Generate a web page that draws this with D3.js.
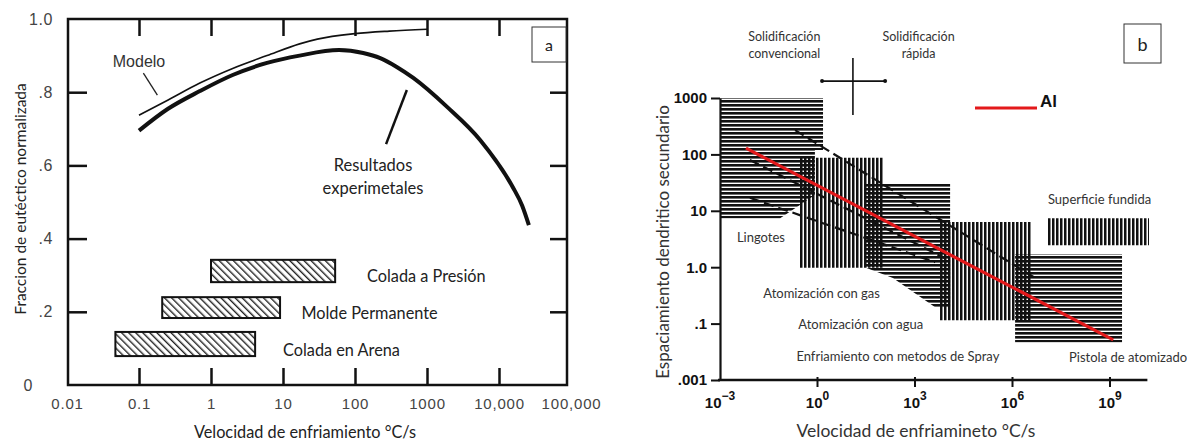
<!DOCTYPE html>
<html>
<head>
<meta charset="utf-8">
<script src="https://cdn.jsdelivr.net/npm/d3@7"></script>
<style>
body { margin: 0; background: #fff; }
text { font-family: Lato, "Open Sans", sans-serif; }
</style>
</head>
<body>
<svg id="chart" width="1187" height="440"></svg>
<script>
// ---------- panel a ----------
var aXTicks = [0.01, 0.1, 1, 10, 100, 1000, 10000, 100000];
var aXTickLabels = ["0.01", "0.1", "1", "10", "100", "1000", "10,000", "100,000"];
var aYTicks = [0, 0.2, 0.4, 0.6, 0.8, 1.0];
var aYTickLabels = ["0", ".2", ".4", ".6", ".8", "1.0"];
var modeloX = [0.1, 0.25, 0.7, 2, 6, 17, 30, 100, 300, 1000];
var modeloY = [0.737, 0.778, 0.825, 0.865, 0.90, 0.932, 0.945, 0.96, 0.967, 0.972];
var resultX = [0.1, 0.25, 0.7, 2, 6, 17, 60, 130, 224, 380, 645, 1900, 5500, 15500, 21000, 26000];
var resultY = [0.695, 0.754, 0.803, 0.847, 0.88, 0.90, 0.915, 0.907, 0.893, 0.869, 0.839, 0.76, 0.669, 0.541, 0.49, 0.437];
var processNames = ["Colada a Presión", "Molde Permanente", "Colada en Arena"];
var processXMin = [1, 0.21, 0.047];
var processXMax = [53, 9.1, 4.1];
var processYMin = [0.281, 0.183, 0.079];
var processYMax = [0.342, 0.240, 0.145];
var processLabelX = [147, 18, 10];

// ---------- panel b (x and y given as powers of ten) ----------
var bXTickExp = [-3, 0, 3, 6, 9];
var bYTicks = [1000, 100, 10, 1, 0.1, 0.01];
var bYTickLabels = ["1000", "100", "10", "1.0", ".1", ".001"];
var zoneA = [[-3, 3], [0.17, 3], [0.17, 2.08], [-0.08, 2.08], [-0.08, 1.28], [-1.15, 0.87], [-3, 0.87]];
var zoneB = [[-0.54, 1.94], [2.02, 1.94], [2.02, -0.01], [-0.54, -0.01]];
var zoneC = [[1.49, 1.49], [4.08, 1.49], [4.08, -0.71], [3.62, -0.71], [2.32, -0.19], [1.49, -0.01]];
var zoneD = [[3.77, 0.8], [6.6, 0.8], [6.6, -0.94], [3.77, -0.94]];
var zoneE = [[6.08, 0.23], [9.37, 0.23], [9.37, -1.33], [6.08, -1.33]];
var zoneF = [[7.09, 0.87], [10.2, 0.87], [10.2, 0.39], [7.09, 0.39]];
var dashedLines = [
	[[-0.69, 2.43], [6.69, -0.19]],
	[[-2.08, 1.90], [3.92, 0.16]],
	[[-2.08, 1.23], [3.62, 0.09]]
];
var alLine = [[-2.2, 2.11], [9.1, -1.29]];
var bLabels = ["Lingotes", "Atomización con gas", "Atomización con agua", "Enfriamiento con metodos de Spray", "Pistola de atomizado", "Superficie fundida"];
var bLabelX = [-2.48, -1.67, -0.59, -0.65, 7.74, 7.09];
var bLabelY = [0.53, -0.46, -1.01, -1.57, -1.60, 1.21];

var svg = d3.select("#chart");
svg.append("rect").attr("width", 1187).attr("height", 440).attr("fill", "#fff");

var defs = svg.append("defs");
defs.append("pattern").attr("id", "diag").attr("patternUnits", "userSpaceOnUse")
	.attr("width", 5).attr("height", 10).attr("patternTransform", "rotate(-45)")
	.append("rect").attr("width", 1.4).attr("height", 10).attr("fill", "#222");
defs.append("pattern").attr("id", "hz").attr("patternUnits", "userSpaceOnUse")
	.attr("width", 8).attr("height", 4)
	.append("rect").attr("width", 8).attr("height", 2.6).attr("fill", "#111");
defs.append("pattern").attr("id", "vt").attr("patternUnits", "userSpaceOnUse")
	.attr("width", 4).attr("height", 8)
	.append("rect").attr("width", 2.5).attr("height", 8).attr("fill", "#111");

// ================= panel a =================
var xA = d3.scaleLog().domain([0.01, 100000]).range([67, 571]);
var yA = d3.scaleLinear().domain([0, 1]).range([385, 19]);
var fL = 68, fR = 567, fT = yA(1), fB = yA(0);
var gA = svg.append("g");

gA.append("rect")
	.attr("x", fL).attr("y", fT)
	.attr("width", fR - fL).attr("height", fB - fT)
	.attr("fill", "none").attr("stroke", "#111").attr("stroke-width", 2.5);

var innerX = aXTicks.slice(1, 7);
var innerY = aYTicks.slice(1, 5);
function cleanTicks(g) {
	g.select(".domain").remove();
	g.selectAll("line").attr("stroke", "#111").attr("stroke-width", 2.5);
}
gA.append("g").attr("transform", "translate(0," + fB + ")")
	.call(d3.axisBottom(xA).tickValues(innerX).tickSize(-17).tickFormat(""))
	.call(cleanTicks);
gA.append("g").attr("transform", "translate(0," + fT + ")")
	.call(d3.axisTop(xA).tickValues(innerX).tickSize(-17).tickFormat(""))
	.call(cleanTicks);
gA.append("g").attr("transform", "translate(" + fL + ",0)")
	.call(d3.axisLeft(yA).tickValues(innerY).tickSize(-19).tickFormat(""))
	.call(cleanTicks);
gA.append("g").attr("transform", "translate(" + fR + ",0)")
	.call(d3.axisRight(yA).tickValues(innerY).tickSize(-17).tickFormat(""))
	.call(cleanTicks);

var xLab = gA.append("g").attr("transform", "translate(0," + fB + ")")
	.call(d3.axisBottom(xA).tickValues(aXTicks).tickSize(0).tickPadding(13)
		.tickFormat(function (d, i) { return aXTickLabels[i]; }));
xLab.select(".domain").remove();
xLab.selectAll("text")
	.style("font-family", "'Liberation Sans', Arial, sans-serif")
	.style("font-size", "15px").style("letter-spacing", "0.8px").attr("fill", "#444");

var yLab = gA.append("g").attr("transform", "translate(" + fL + ",0)")
	.call(d3.axisLeft(yA).tickValues(aYTicks).tickSize(0).tickPadding(15)
		.tickFormat(function (d, i) { return aYTickLabels[i]; }));
yLab.select(".domain").remove();
yLab.selectAll("text")
	.style("font-family", "'Liberation Sans', Arial, sans-serif")
	.style("font-size", "16px").style("letter-spacing", "0.6px").attr("fill", "#444")
	.attr("dx", function (d) { return d === 0 ? -20 : 0; });

// process bars
processNames.forEach(function (name, i) {
	gA.append("rect")
		.attr("x", xA(processXMin[i]))
		.attr("y", yA(processYMax[i]))
		.attr("width", xA(processXMax[i]) - xA(processXMin[i]))
		.attr("height", yA(processYMin[i]) - yA(processYMax[i]))
		.attr("fill", "url(#diag)")
		.attr("stroke", "#111").attr("stroke-width", 2);
	gA.append("text")
		.attr("x", xA(processLabelX[i]))
		.attr("y", (yA(processYMin[i]) + yA(processYMax[i])) / 2 + 5)
		.attr("dominant-baseline", "central")
		.style("font-size", "16.3px").attr("fill", "#222")
		.text(name);
});

var lineA = d3.line()
	.x(function (d) { return xA(d[0]); })
	.y(function (d) { return yA(d[1]); })
	.curve(d3.curveMonotoneX);
gA.append("path")
	.datum(modeloX.map(function (x, i) { return [x, modeloY[i]]; }))
	.attr("d", lineA).attr("fill", "none").attr("stroke", "#111").attr("stroke-width", 1.6);
gA.append("path")
	.datum(resultX.map(function (x, i) { return [x, resultY[i]]; }))
	.attr("d", lineA).attr("fill", "none").attr("stroke", "#111").attr("stroke-width", 4);

// annotations
var plain = d3.line().x(function (d) { return xA(d[0]); }).y(function (d) { return yA(d[1]); });
gA.append("path").attr("d", plain([[0.115, 0.852], [0.18, 0.792]]))
	.attr("stroke", "#222").attr("stroke-width", 1.3);
gA.append("path").attr("d", plain([[525, 0.806], [270, 0.658]]))
	.attr("stroke", "#111").attr("stroke-width", 2.5);
gA.append("text").attr("x", xA(0.1)).attr("y", yA(0.883))
	.attr("text-anchor", "middle").attr("dominant-baseline", "central")
	.style("font-family", "'Liberation Sans', Arial, sans-serif")
	.style("font-size", "16px").attr("fill", "#333").text("Modelo");
gA.append("text").attr("x", xA(178)).attr("y", yA(0.601))
	.attr("text-anchor", "middle").attr("dominant-baseline", "central")
	.style("font-size", "16.5px").attr("fill", "#222").text("Resultados");
gA.append("text").attr("x", xA(178)).attr("y", yA(0.538))
	.attr("text-anchor", "middle").attr("dominant-baseline", "central")
	.style("font-size", "16.5px").attr("fill", "#222").text("experimetales");

gA.append("rect").attr("x", 532).attr("y", 27).attr("width", 34).attr("height", 35)
	.attr("fill", "#fff").attr("stroke", "#333").attr("stroke-width", 1);
gA.append("text").attr("x", 549).attr("y", 44.5).attr("text-anchor", "middle")
	.attr("dominant-baseline", "central").style("font-size", "16px").attr("fill", "#222").text("a");

gA.append("text").attr("x", 305).attr("y", 431).attr("text-anchor", "middle")
	.attr("dominant-baseline", "central").style("font-size", "16.3px").attr("fill", "#222")
	.text("Velocidad de enfriamiento °C/s");
gA.append("text").attr("transform", "translate(20,199) rotate(-90)")
	.attr("text-anchor", "middle").attr("dominant-baseline", "central")
	.style("font-size", "15.5px").attr("fill", "#222")
	.text("Fraccion de eutéctico normalizada");

// ================= panel b =================
var xB = d3.scaleLog().domain([1e-3, 1e9]).range([720, 1110]);
var yB = d3.scaleLog().domain([0.01, 1000]).range([380, 98]);
var gB = svg.append("g");
function px(e) { return xB(Math.pow(10, e)); }
function py(e) { return yB(Math.pow(10, e)); }
var zoneLine = d3.line().x(function (d) { return px(d[0]); }).y(function (d) { return py(d[1]); });

[zoneA, zoneC, zoneE].forEach(function (z) {
	gB.append("path").attr("d", zoneLine(z) + "Z").attr("fill", "url(#hz)");
});
[zoneB, zoneD, zoneF].forEach(function (z) {
	gB.append("path").attr("d", zoneLine(z) + "Z").attr("fill", "url(#vt)");
});

dashedLines.forEach(function (l) {
	gB.append("path").attr("d", zoneLine(l))
		.attr("stroke", "#111").attr("stroke-width", 2.2).attr("stroke-dasharray", "10,5");
});

gB.append("path").attr("d", zoneLine(alLine))
	.attr("stroke", "#e3191b").attr("stroke-width", 3.2);

// axes
var bLeft = gB.append("g").attr("transform", "translate(" + xB(1e-3) + ",0)")
	.call(d3.axisLeft(yB).tickValues(bYTicks).tickSizeInner(9).tickSizeOuter(0).tickPadding(4)
		.tickFormat(function (d, i) { return bYTickLabels[i]; }));
bLeft.select(".domain").attr("stroke", "#111").attr("stroke-width", 2.2);
bLeft.selectAll("line").attr("stroke", "#111").attr("stroke-width", 2);
bLeft.selectAll("text").style("font-family", "'Liberation Sans', Arial, sans-serif")
	.style("font-size", "15px").style("font-weight", "bold").attr("fill", "#111");

gB.append("line")
	.attr("x1", xB(1e-3) - 2).attr("x2", px(10.15))
	.attr("y1", yB(0.01)).attr("y2", yB(0.01))
	.attr("stroke", "#111").attr("stroke-width", 2.4);
var bBottom = gB.append("g").attr("transform", "translate(0," + yB(0.01) + ")");
bBottom.selectAll("line.tk").data(bXTickExp.slice(1)).enter().append("line")
	.attr("x1", function (d) { return px(d); }).attr("x2", function (d) { return px(d); })
	.attr("y1", -3).attr("y2", 7).attr("stroke", "#111").attr("stroke-width", 2);
var bxt = bBottom.selectAll("text.tl").data(bXTickExp).enter().append("text")
	.attr("x", function (d) { return px(d); }).attr("y", 28)
	.attr("text-anchor", "middle")
	.style("font-family", "'Liberation Sans', Arial, sans-serif")
	.style("font-weight", "bold").attr("fill", "#111");
bxt.append("tspan").style("font-size", "15px").text("10");
bxt.append("tspan").attr("dy", -8).style("font-size", "12px")
	.text(function (d) { return d < 0 ? "\u2212" + (-d) : "" + d; });

// zone labels
bLabels.forEach(function (t, i) {
	gB.append("text").attr("x", px(bLabelX[i])).attr("y", py(bLabelY[i]))
		.attr("dominant-baseline", "central")
		.style("font-size", "13px").attr("fill", "#333").text(t);
});

// solidification cross
var crossH = [[0.14, 3.30], [2.08, 3.30]];
var crossV = [[1.09, 3.71], [1.09, 2.70]];
gB.append("path").attr("d", zoneLine(crossH)).attr("stroke", "#111").attr("stroke-width", 1.6);
gB.append("path").attr("d", zoneLine(crossV)).attr("stroke", "#111").attr("stroke-width", 1.6);
crossH.forEach(function (p) {
	gB.append("circle").attr("cx", px(p[0])).attr("cy", py(p[1])).attr("r", 2).attr("fill", "#111");
});
[["Solidificación", "convencional", -1.02], ["Solidificación", "rápida", 3.11]].forEach(function (s) {
	gB.append("text").attr("x", px(s[2])).attr("y", 36).attr("text-anchor", "middle")
		.attr("dominant-baseline", "central").style("font-size", "12.5px").attr("fill", "#333").text(s[0]);
	gB.append("text").attr("x", px(s[2])).attr("y", 53).attr("text-anchor", "middle")
		.attr("dominant-baseline", "central").style("font-size", "12.5px").attr("fill", "#333").text(s[1]);
});

// legend
gB.append("line").attr("x1", 975).attr("x2", 1037).attr("y1", 108).attr("y2", 108)
	.attr("stroke", "#e3191b").attr("stroke-width", 3);
gB.append("text").attr("x", 1040).attr("y", 101).attr("dominant-baseline", "central")
	.style("font-family", "'Liberation Sans', Arial, sans-serif")
	.style("font-size", "17px").style("font-weight", "bold").attr("fill", "#111").text("Al");

gB.append("rect").attr("x", 1124).attr("y", 24).attr("width", 37).attr("height", 39)
	.attr("fill", "#fff").attr("stroke", "#333").attr("stroke-width", 1);
gB.append("text").attr("x", 1142.5).attr("y", 43.5).attr("text-anchor", "middle")
	.attr("dominant-baseline", "central").style("font-size", "18px").attr("fill", "#222").text("b");

gB.append("text").attr("x", 916).attr("y", 430).attr("text-anchor", "middle")
	.attr("dominant-baseline", "central").style("font-size", "17.5px").attr("fill", "#333")
	.text("Velocidad de enfriamineto °C/s");
gB.append("text").attr("transform", "translate(662,242) rotate(-90)")
	.attr("text-anchor", "middle").attr("dominant-baseline", "central")
	.style("font-size", "17px").attr("fill", "#333")
	.text("Espaciamiento dendritico secundario");
</script>
</body>
</html>
